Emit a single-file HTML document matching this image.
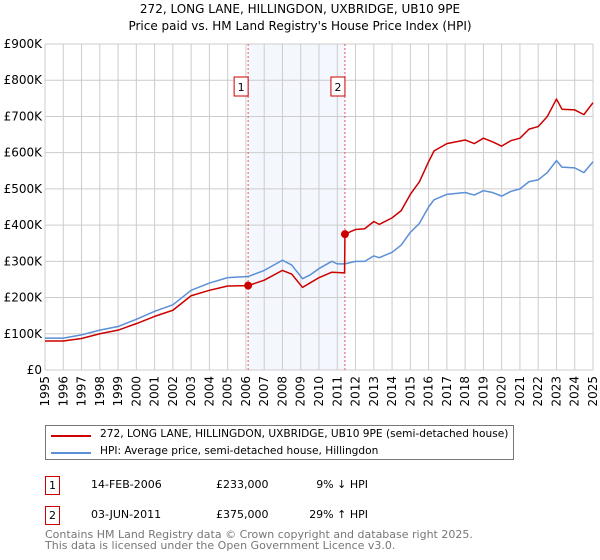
<!DOCTYPE html>
<html><head><meta charset="utf-8"><style>
body{margin:0;background:#fff;font-family:"DejaVu Sans","Liberation Sans",sans-serif;}
#wrap{position:relative;width:600px;height:560px;overflow:hidden}
.t{position:absolute;font-size:12px;color:#000;white-space:nowrap}
</style></head><body>
<div id="wrap">
<div class="t" style="left:0;width:600px;text-align:center;top:2px">272, LONG LANE, HILLINGDON, UXBRIDGE, UB10 9PE</div>
<div class="t" style="left:0;width:600px;text-align:center;top:19px">Price paid vs. HM Land Registry's House Price Index (HPI)</div>
<svg id="chart" width="600" height="420" style="position:absolute;left:0;top:0"></svg>
<div style="position:absolute;left:45px;top:425px;width:469px;height:35px;border:1px solid #777;box-sizing:border-box"></div>
<div style="position:absolute;left:51px;top:435px;width:40px;height:2px;background:#cc0000"></div>
<div class="t" style="left:100px;top:428px;font-size:10.6px">272, LONG LANE, HILLINGDON, UXBRIDGE, UB10 9PE (semi-detached house)</div>
<div style="position:absolute;left:51px;top:452px;width:40px;height:2px;background:#5b8fd6"></div>
<div class="t" style="left:100px;top:445px;font-size:10.6px">HPI: Average price, semi-detached house, Hillingdon</div>
<div class="t" style="left:45px;top:476px;width:15px;height:19px;border:1px solid #c00;box-sizing:border-box;text-align:center;line-height:17px;font-size:11px">1</div>
<div class="t" style="left:91px;top:478px;font-size:11px">14-FEB-2006</div>
<div class="t" style="left:216px;top:478px;font-size:11px">£233,000</div>
<div class="t" style="left:300px;width:68px;text-align:right;top:478px;font-size:11px">9% ↓ HPI</div>
<div class="t" style="left:45px;top:506px;width:15px;height:19px;border:1px solid #c00;box-sizing:border-box;text-align:center;line-height:17px;font-size:11px">2</div>
<div class="t" style="left:91px;top:508px;font-size:11px">03-JUN-2011</div>
<div class="t" style="left:216px;top:508px;font-size:11px">£375,000</div>
<div class="t" style="left:300px;width:68px;text-align:right;top:508px;font-size:11px">29% ↑ HPI</div>
<div class="t" style="left:45px;top:530px;color:#777;font-size:11px;line-height:10px">Contains HM Land Registry data © Crown copyright and database right 2025.</div>
<div class="t" style="left:45px;top:541px;color:#777;font-size:11px;line-height:10px">This data is licensed under the Open Government Licence v3.0.</div>
</div>
<script>
const yTicks=[0,100,200,300,400,500,600,700,800,900];
const yTickLabels=["£0","£100K","£200K","£300K","£400K","£500K","£600K","£700K","£800K","£900K"];
const years=[1995,1996,1997,1998,1999,2000,2001,2002,2003,2004,2005,2006,2007,2008,2009,2010,2011,2012,2013,2014,2015,2016,2017,2018,2019,2020,2021,2022,2023,2024,2025];
const hpiX=[1995,1996,1997,1998,1999,2000,2001,2002,2003,2004,2005,2006.12,2007,2008,2008.5,2009.1,2009.5,2010,2010.7,2011,2011.42,2012,2012.5,2013,2013.3,2014,2014.5,2015,2015.5,2016,2016.3,2017,2018,2018.5,2019,2019.5,2020,2020.5,2021,2021.5,2022,2022.5,2023,2023.3,2024,2024.5,2025];
const hpiY=[88,88,97,110,120,140,162,180,220,240,255,258,275,303,290,252,262,280,300,293,293,300,300,315,310,325,345,380,405,450,470,485,490,483,495,490,480,493,500,520,525,545,578,560,558,545,575];
const priceX=[1995,1996,1997,1998,1999,2000,2001,2002,2003,2004,2005,2006.12,2007,2008,2008.5,2009.1,2009.5,2010,2010.7,2011.4,2011.42,2012,2012.5,2013,2013.3,2014,2014.5,2015,2015.5,2016,2016.3,2017,2018,2018.5,2019,2019.5,2020,2020.5,2021,2021.5,2022,2022.5,2023,2023.3,2024,2024.5,2025];
const priceY=[80,80,87,100,110,128,148,165,205,220,232,233,248,275,265,228,240,255,270,268,375,388,390,410,402,420,440,485,520,575,605,625,635,625,640,630,618,633,640,665,672,700,748,720,718,705,738];
const salesX=[2006.12,2011.42];
const salesY=[233,375];
const NS="http://www.w3.org/2000/svg";
const svg=document.getElementById('chart');
const L=45,R=593,T=44,B=370;
const xs=v=>L+(v-1995)/30*(R-L);
const ys=v=>B-v/900*(B-T);
function mk(tag,attrs){const e=document.createElementNS(NS,tag);for(const k in attrs)e.setAttribute(k,attrs[k]);svg.appendChild(e);return e;}
let sh=mk('rect',{x:xs(salesX[0]),y:T,width:xs(salesX[1])-xs(salesX[0]),height:B-T,fill:'#f4f7fd'});


yTicks.forEach((v,i)=>{
 let g=mk('line',{x1:L,x2:R,y1:ys(v),y2:ys(v),stroke:'#ccc','stroke-width':1});
 
 
 let t=mk('text',{x:L-3,y:ys(v)+4,'text-anchor':'end','font-size':12,'font-family':'DejaVu Sans, sans-serif'});
 t.textContent=yTickLabels[i];
 
 
});
years.forEach(y=>{
 let g=mk('line',{x1:xs(y),x2:xs(y),y1:T,y2:B,stroke:'#ccc','stroke-width':1});
 
 
 let t=mk('text',{x:0,y:0,'text-anchor':'end','font-size':12,'font-family':'DejaVu Sans, sans-serif',transform:`translate(${xs(y)+4},${B+6}) rotate(-90)`});
 t.textContent=y;
 
 
});
salesX.forEach((s,i)=>{
 let d=mk('line',{x1:xs(s),x2:xs(s),y1:T,y2:B,stroke:'#e55','stroke-width':1,'stroke-dasharray':'2,2'});
 
 
 let b=mk('rect',{x:xs(s)-14,y:77,width:14,height:19,fill:'#fff',stroke:'#c00'});
 
 
 let t=mk('text',{x:xs(s)-7,y:91,'text-anchor':'middle','font-size':11,'font-family':'DejaVu Sans, sans-serif'});
 t.textContent=i+1;
 
 
});
function line(X,Y,c,n){let p=mk('polyline',{points:X.map((x,i)=>xs(x)+','+ys(Y[i])).join(' '),fill:'none',stroke:c,'stroke-width':1.5,'stroke-linejoin':'round'});}
line(hpiX,hpiY,'#5b8fd6','hpi-line');
line(priceX,priceY,'#cc0000','price-line');
salesX.forEach((s,i)=>{let c=mk('circle',{cx:xs(s),cy:ys(salesY[i]),r:4,fill:'#cc0000'});});
</script>
</body></html>
